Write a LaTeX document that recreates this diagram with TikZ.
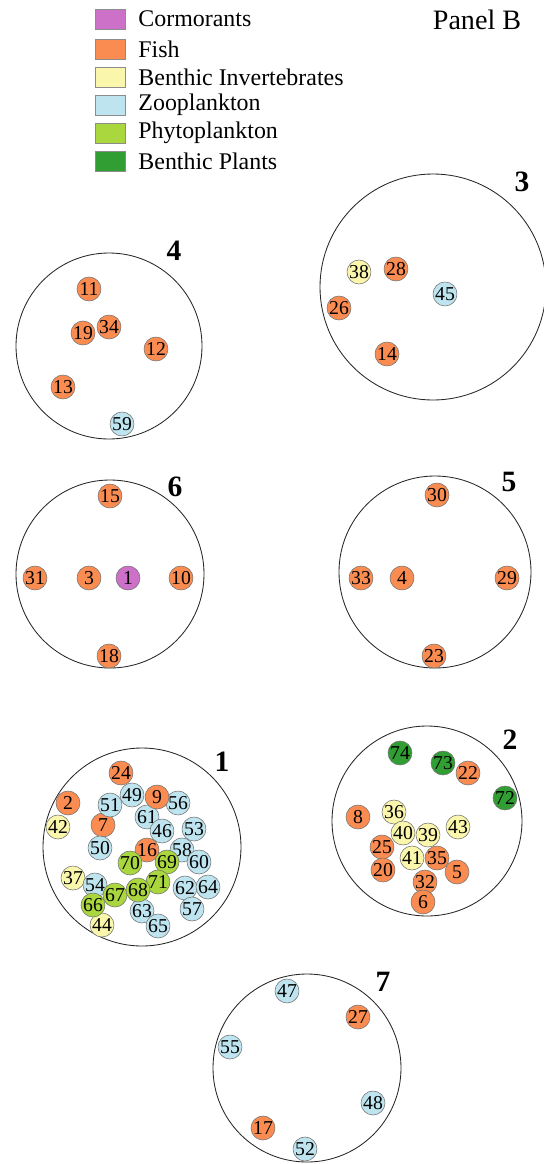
\documentclass[tikz,border=0pt]{standalone}
\usepackage{fontspec}
\setmainfont{Liberation Serif}
\usetikzlibrary{positioning}
\definecolor{birdc}{RGB}{205,112,200}
\definecolor{fishc}{RGB}{250,140,82}
\definecolor{invc}{RGB}{250,246,172}
\definecolor{zooc}{RGB}{190,228,240}
\definecolor{phytoc}{RGB}{170,214,62}
\definecolor{plantc}{RGB}{48,158,50}
\tikzset{
  sp/.style={circle, draw=black!55, line width=0.4pt, inner sep=0pt, minimum size=0.6cm, font=\fontsize{14}{14}\selectfont},
  bird/.style={sp, fill=birdc},
  fish/.style={sp, fill=fishc},
  invert/.style={sp, fill=invc},
  zoo/.style={sp, fill=zooc},
  phyto/.style={sp, fill=phytoc},
  plant/.style={sp, fill=plantc},
  keybox/.style={draw=black!45, line width=0.5pt, minimum width=0.75cm, minimum height=0.5cm, inner sep=0pt},
  keytext/.style={right=0.32cm of #1, inner sep=0pt, font=\fontsize{17}{17}\selectfont},
  grp/.style={draw=black!85, line width=0.6pt},
  grplabel/.style={font=\fontsize{21}{21}\selectfont\bfseries}
}
\begin{document}
\begin{tikzpicture}[x=0.025cm, y=-0.025cm]
\useasboundingbox (0,0) rectangle (544,1164);
% legend
\node[keybox, fill=birdc] (k1) at (110,19) {};
\node[keybox, fill=fishc] (k2) at (110,49) {};
\node[keybox, fill=invc] (k3) at (110,77) {};
\node[keybox, fill=zooc] (k4) at (110,105) {};
\node[keybox, fill=phytoc] (k5) at (110,133) {};
\node[keybox, fill=plantc] (k6) at (110,161) {};
\node[keytext=k1] (t1) {Cormorants};
\node[keytext=k2] (t2) {Fish};
\node[keytext=k3] (t3) {Benthic Invertebrates};
\node[keytext=k4] (t4) {Zooplankton};
\node[keytext=k5] (t5) {Phytoplankton};
\node[keytext=k6] (t6) {Benthic Plants};
\node[font=\fontsize{20}{20}\selectfont] (panel) at (477,20) {Panel B};
% groups
\foreach \g/\x/\y/\r/\lx/\ly in {4/109/346/93/174/251, 3/433/287/113/522/182, 6/110/574/94/175/487, 5/435/572/96/509/482, 1/142/847/99/222/762, 2/427/821/95/510/740, 7/307/1068/94/383/982} {
  \draw[grp] (\x,\y) circle[radius=\r];
  \node[grplabel] (g\g) at (\lx,\ly) {\g};
}
% species
\foreach \n/\x/\y in {11/89/289, 19/83/333, 34/109/327, 12/156/349, 13/63/387, 28/396/269, 26/339/308, 14/387/354, 15/110/496, 31/35/578, 3/89/578, 10/181/578, 18/109/656, 30/437/495, 33/361/578, 4/402/578, 29/507/578, 23/434/656, 24/121/773, 2/68/803, 7/103/825, 16/147/850, 22/468/773, 8/358/817, 25/382/847, 20/383/870, 32/425/882, 6/423/902, 35/437/858, 5/457/872, 27/358/1017, 17/263/1128}
  \node[fish] (s\n) at (\x,\y) {\n};
\node[bird] (s1) at (128,578) {1};
\foreach \n/\x/\y in {38/359/272, 42/58/827, 37/73/878, 44/102/925, 36/394/812, 40/403/833, 39/428/835, 43/458/827, 41/412/858}
  \node[invert] (s\n) at (\x,\y) {\n};
\foreach \n/\x/\y in {59/122/424, 45/445/294, 51/110/805, 49/132/795, 56/178/803, 61/147/817, 46/162/831, 53/194/829, 50/100/848, 58/182/850, 60/199/862, 54/95/885, 62/185/888, 64/208/887, 63/142/911, 57/192/909, 65/158/926, 47/287/991, 55/230/1047, 48/373/1103, 52/305/1149}
  \node[zoo] (s\n) at (\x,\y) {\n};
\node[fish] (s9) at (157,797) {9};
\foreach \n/\x/\y in {70/130/863, 69/167/862, 71/158/882, 67/115/895, 68/138/890, 66/93/905}
  \node[phyto] (s\n) at (\x,\y) {\n};
\foreach \n/\x/\y in {74/400/753, 73/443/763, 72/505/798}
  \node[plant] (s\n) at (\x,\y) {\n};
\end{tikzpicture}
\end{document}
